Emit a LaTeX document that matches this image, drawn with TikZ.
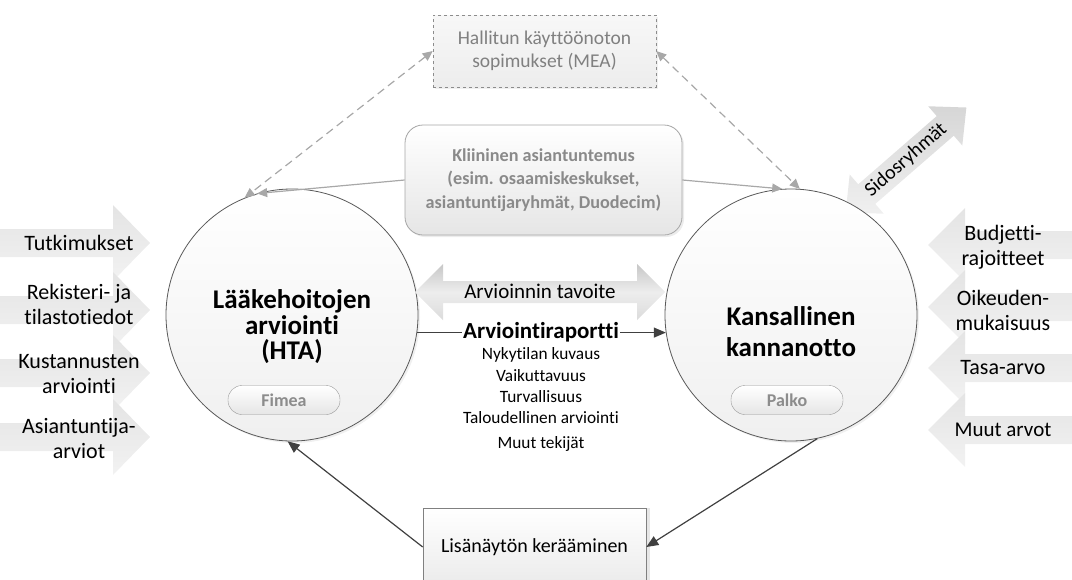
\documentclass[tikz,border=0pt]{standalone}
\usepackage{fontspec}
\setmainfont{Carlito}[Ligatures=NoCommon]
\usetikzlibrary{arrows.meta,shadows}
\definecolor{cborder}{HTML}{595959}
\definecolor{cgraytext}{HTML}{8A8A8A}
\definecolor{cmea}{HTML}{808080}
\definecolor{clink}{HTML}{A8A8A8}
\definecolor{cdark}{HTML}{404040}
\definecolor{carrowA}{HTML}{E4E4E4}
\definecolor{carrowB}{HTML}{F2F2F2}
\begin{document}
\begin{tikzpicture}[x=1pt,y=-1pt,
  lbl/.style={font=\fontsize{22}{25}\selectfont, align=center, text=black, inner sep=0pt},
  sub/.style={font=\fontsize{17.3}{20}\selectfont, align=center, text=black, inner sep=0pt},
  bigcircle/.style={circle, minimum size=252pt, inner sep=0pt, draw=cborder, line width=0.8pt,
    top color=white, bottom color=black!6, drop shadow={opacity=0.12, shadow xshift=2pt, shadow yshift=-2pt}},
  ctitle/.style={font=\fontsize{27}{25.5}\selectfont\bfseries, align=center, text=black, inner sep=0pt},
  pill/.style={rectangle, rounded corners=14pt, minimum width=112pt, minimum height=29pt, inner sep=0pt,
    draw=black!40, top color=white, bottom color=black!10, text=black!45,
    font=\fontsize{18}{20}\selectfont\bfseries},
  blockarrow/.style={top color=carrowA, bottom color=carrowB, draw=none},
  conn/.style={draw=cdark, line width=1.2pt, -{Triangle[length=12pt,width=10pt]}},
  glink/.style={draw=clink, line width=1.2pt, -{Triangle[length=10pt,width=9pt]}},
  dlink/.style={draw=clink, line width=1.2pt, dashed, dash pattern=on 8pt off 5pt,
    {Triangle[length=10pt,width=9pt]}-{Triangle[length=10pt,width=9pt]}},
]
\useasboundingbox (0,0) rectangle (1072,579);
\clip (0,0) rectangle (1072,579);

% left input arrows
\foreach \c in {243,310,373,437}{
  \path[blockarrow] (0,\c-14) -- (113,\c-14) -- (113,\c-38) -- (150,\c) -- (113,\c+38) -- (113,\c+14) -- (0,\c+14) -- cycle;
}
\node[lbl] (tut) at (79,243) {Tutkimukset};
\node[lbl] (rek) at (79,304) {Rekisteri- ja\\tilastotiedot};
\node[lbl] (kus) at (79,374) {Kustannusten\\arviointi};
\node[lbl] (asi) at (79,439) {Asiantuntija-\\arviot};

% right input arrows
\foreach \c in {245,307,368,430}{
  \path[blockarrow] (1072,\c-14) -- (965,\c-14) -- (965,\c-37) -- (928,\c) -- (965,\c+37) -- (965,\c+14) -- (1072,\c+14) -- cycle;
}
\node[lbl] (bud) at (1003,247) {Budjetti-\\rajoitteet};
\node[lbl] (oik) at (1003,310) {Oikeuden-\\mukaisuus};
\node[lbl] (tas) at (1003,368) {Tasa-arvo};
\node[lbl, font=\fontsize{21}{24}\selectfont] (muu) at (1003,430) {Muut arvot};

% Sidosryhmat double arrow
\begin{scope}[shift={(906,160)}, rotate=41]
  \path[top color=black!16, bottom color=black!6, draw=none]
    (-80,0) -- (-52,-26) -- (-52,-13) -- (52,-13) -- (52,-26) -- (80,0) -- (52,26) -- (52,13) -- (-52,13) -- (-52,26) -- cycle;
  \node[lbl, font=\fontsize{20}{22}\selectfont, rotate=41] (sid) at (0,0) {Sidosryhmät};
\end{scope}

% top boxes
\node[rectangle, minimum width=223pt, minimum height=72pt, draw=black!45, dashed, line width=0.6pt,
  top color=black!3, bottom color=black!7, text=cmea, align=center,
  font=\fontsize{19.5}{23}\selectfont,
  drop shadow={opacity=0.12, shadow xshift=2pt, shadow yshift=-2pt}] (mea) at (544.5,51)
  {Hallitun käyttöönoton\\sopimukset (MEA)};

\node[rectangle, rounded corners=18pt, minimum width=277pt, minimum height=110pt, draw=black!35, line width=0.8pt,
  top color=white, bottom color=black!10, text=cgraytext, align=center,
  font=\fontsize{18.2}{23.5}\selectfont\bfseries,
  drop shadow={opacity=0.15, shadow xshift=2pt, shadow yshift=-2pt}] (kli) at (543.5,180)
  {Kliininen asiantuntemus\\(esim. osaamiskeskukset,\\asiantuntijaryhmät, Duodecim)};

% circles
\node[bigcircle] (L) at (292,315) {};
\node[bigcircle] (R) at (791,315) {};
\node[ctitle] (Lt) at (292,327) {Lääkehoitojen\\arviointi\\(HTA)};
\node[ctitle, font=\fontsize{27}{31}\selectfont\bfseries] (Rt) at (791,332) {Kansallinen\\kannanotto};
\node[pill] (fim) at (284,400) {Fimea};
\node[pill] (pal) at (787,400) {Palko};

% links from top boxes
\draw[dlink] (mea.west) -- (L.112);
\draw[dlink] (mea.east) -- (R.86);
\draw[glink] (kli.west) -- (L.106);
\draw[glink] (kli.east) -- (R.94);

% Arvioinnin tavoite double arrow
\path[top color=black!22, bottom color=black!14, middle color=black!7, draw=none]
  (415,292) -- (443,264) -- (443,281) -- (637,281) -- (637,264) -- (665,292) -- (637,320) -- (637,303) -- (443,303) -- (443,320) -- cycle;
\node[lbl, font=\fontsize{21}{24}\selectfont] (tav) at (540,291) {Arvioinnin tavoite};

% report arrow
\draw[conn] (L.-8) -- (R.188);
\node[lbl, font=\fontsize{23}{25}\selectfont\bfseries, fill=white, inner xsep=1pt, inner ysep=1pt] (rap) at (541,332) {Arviointiraportti};
\node[sub] (s1) at (541,355) {Nykytilan kuvaus};
\node[sub] (s2) at (541,376) {Vaikuttavuus};
\node[sub] (s3) at (541,397) {Turvallisuus};
\node[sub] (s4) at (541,418) {Taloudellinen arviointi};
\node[sub] (s5) at (541,444) {Muut tekijät};

% bottom box
\node[rectangle, minimum width=223pt, minimum height=78pt, draw=black!50, line width=0.6pt,
  top color=white, bottom color=black!8,
  drop shadow={opacity=0.2, shadow xshift=4pt, shadow yshift=0pt}] (lis) at (534.5,547) {};
\node[lbl, font=\fontsize{20}{24}\selectfont] (list) at (534.5,547) {Lisänäytön kerääminen};
\draw[conn] (lis.west) -- (L.268);
\draw[conn] (R.282) -- (lis.east);
\end{tikzpicture}
\end{document}
